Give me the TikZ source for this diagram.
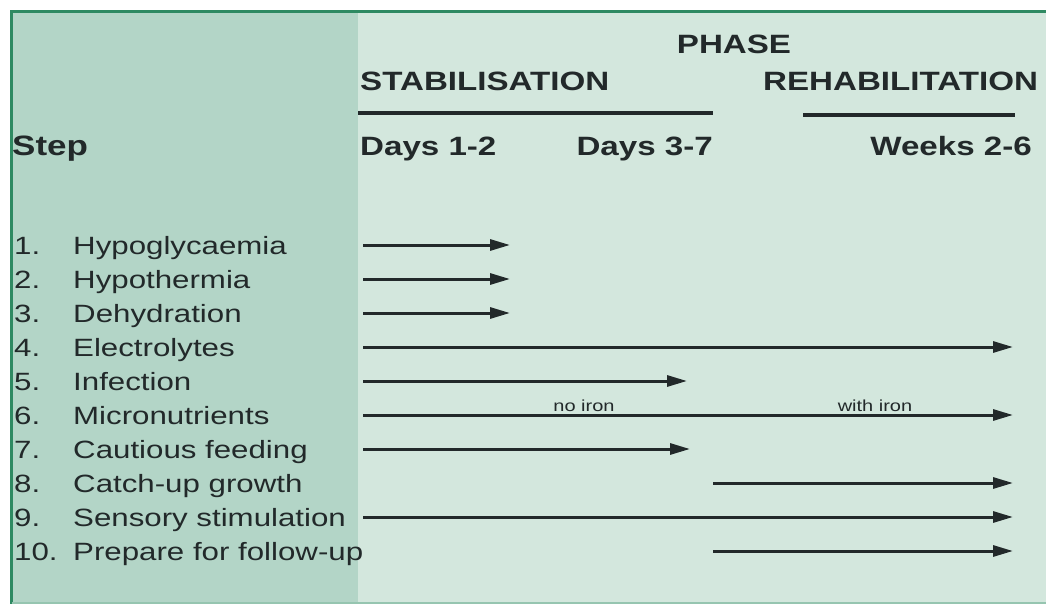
\documentclass[tikz,border=0pt]{standalone}
\usepackage{fontspec}
\setmainfont{Liberation Sans}[FakeStretch=1.25]
\usetikzlibrary{arrows.meta}
\definecolor{leftpanel}{HTML}{B3D5C7}
\definecolor{rightpanel}{HTML}{D3E7DD}
\definecolor{framegreen}{HTML}{2E8A62}
\definecolor{ink}{HTML}{22292A}

\begin{document}
\begin{tikzpicture}[x=1pt,y=1pt,
  head/.style={font=\fontsize{26.5}{30}\selectfont\bfseries, text=ink, inner sep=0pt},
  steptxt/.style={font=\fontsize{25}{29}\selectfont, text=ink, inner sep=0pt, anchor=base west},
  note/.style={font=\fontsize{16}{18}\selectfont, text=ink, inner sep=0pt, anchor=base},
  bar/.style={draw=ink, line width=3pt, -{Triangle[length=20pt,width=11pt]}},
  rule/.style={draw=ink, line width=4pt}]
\useasboundingbox (0,0) rectangle (1046,-604);
\fill[white] (0,0) rectangle (1046,-604);
\fill[leftpanel] (12,-12) rectangle (358,-603);
\fill[rightpanel] (358,-12) rectangle (1046,-603);
\draw[framegreen, line width=3pt] (1046,-11.5) -- (11.5,-11.5) -- (11.5,-604);
\draw[framegreen!50, line width=2pt] (11.5,-603) -- (1046,-603);

% headings
\node[head, anchor=base] (phase) at (734,-54) {PHASE};
\node[head, anchor=base west] (stab) at (360,-91) {STABILISATION};
\node[head, anchor=base west] (rehab) at (763,-91) {REHABILITATION};
\node[head, anchor=base west, font=\fontsize{28}{32}\selectfont\bfseries] (step) at (12,-156) {Step};
\node[head, anchor=base west] (day1) at (360,-156) {Days 1-2};
\node[head, anchor=base east] (day3) at (713,-156) {Days 3-7};
\node[head, anchor=base east] (week) at (1032,-156) {Weeks 2-6};

\coordinate (stabL) at (358,-113);
\coordinate (stabR) at (713,-113);
\coordinate (rehabL) at (803,-115);
\coordinate (rehabR) at (1015,-115);
\draw[rule] (stabL) -- (stabR);
\draw[rule] (rehabL) -- (rehabR);

% steps
\foreach \txt [count=\i] in {Hypoglycaemia, Hypothermia, Dehydration, Electrolytes,
  Infection, Micronutrients, Cautious feeding, Catch-up growth,
  Sensory stimulation, Prepare for follow-up}{
  \node[steptxt] (num\i) at (14,{-254-34*(\i-1)}) {\i.};
  \node[steptxt] (lbl\i) at (73,{-254-34*(\i-1)}) {\txt};
}

% duration bars
\foreach \r/\a/\b in {1/363/510, 2/363/510, 3/363/510, 4/363/1013, 5/363/687,
  6/363/1013, 7/363/690, 8/713/1013, 9/363/1013, 10/713/1013}{
  \coordinate (from\r) at (\a,{-245-34*(\r-1)});
  \coordinate (to\r) at (\b,{-245-34*(\r-1)});
  \draw[bar] (from\r) -- (to\r);
}
\node[note] (noiron) at (584,-411) {no iron};
\node[note] (withiron) at (875,-411) {with iron};
\end{tikzpicture}
\end{document}
